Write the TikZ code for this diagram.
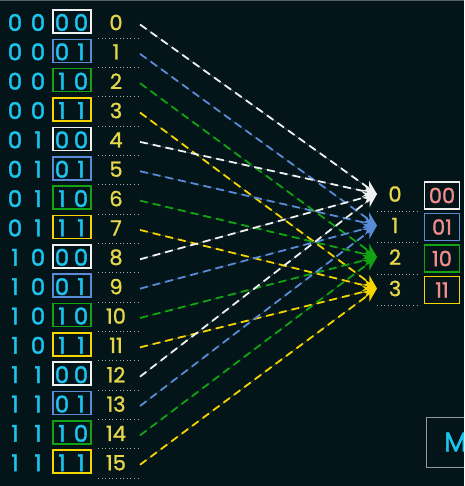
\documentclass[tikz,border=0pt]{standalone}
\usepackage{fontspec}
\setmainfont{Poppins}
\newfontfamily\bitfont{Poppins}[FakeBold=1.6]
\newfontfamily\numfont{Poppins}[FakeBold=1.2]
\usetikzlibrary{arrows.meta}
\definecolor{bgc}{RGB}{3,21,25}
\definecolor{cyanc}{RGB}{27,197,239}
\definecolor{yelt}{RGB}{230,214,74}
\definecolor{c0}{RGB}{240,240,240}
\definecolor{c1}{RGB}{90,139,214}
\definecolor{c2}{RGB}{18,163,18}
\definecolor{c3}{RGB}{245,212,0}
\definecolor{pinkc}{RGB}{240,140,140}
\definecolor{grayc}{RGB}{140,155,155}
\tikzset{
  bit/.style={text=cyanc,font=\bitfont\fontsize{23}{23}\selectfont,inner sep=0pt,anchor=center},
  numlab/.style={text=yelt,font=\numfont\fontsize{21}{21}\selectfont,inner sep=0pt,anchor=center},
  pairbox/.style={draw,line width=1.6pt,minimum width=38pt,minimum height=23pt,inner sep=0pt},
  rbox/.style={draw,line width=1.6pt,minimum width=35pt,minimum height=27pt,inner sep=0pt,text=pinkc,font=\numfont\fontsize{21}{21}\selectfont},
  dotl/.style={draw=grayc!80!white,line width=0.9pt,dash pattern=on 1pt off 2.6pt},
  dline/.style={line width=1.8pt,dash pattern=on 8pt off 5pt,-{Stealth[length=14pt,width=12pt]}}
}
\begin{document}
\begin{tikzpicture}[x=1pt,y=-1pt]
\fill[bgc] (0,0) rectangle (464,486);
\useasboundingbox (0,0) rectangle (464,486);
\clip (0,0) rectangle (464,486);
\draw[grayc!60!bgc,line width=0.8pt] (0,0.4) -- (464,0.4);
% targets
\foreach \k in {0,...,3}{
  \pgfmathsetmacro\yk{194+31.5*\k}
  \coordinate (t\k) at (377,\yk);
  \node[numlab] (r\k) at (395,\yk) {\k};
  \coordinate (rd\k a) at (377,\yk+17);
  \coordinate (rd\k b) at (418,\yk+17);
  \draw[dotl] (rd\k a) -- (rd\k b);
}
\node[rbox,draw=c0] (q0) at (442,195.5) {00};
\node[rbox,draw=c1] (q1) at (442,227) {01};
\node[rbox,draw=c2] (q2) at (442,258.5) {10};
\node[rbox,draw=c3] (q3) at (442,290) {11};
% rows
\foreach \i in {0,...,15}{
  \pgfmathsetmacro\y{22.5+29.35*\i}
  \pgfmathtruncatemacro\ba{\i/8}
  \pgfmathtruncatemacro\bb{mod(\i/4,2)}
  \pgfmathtruncatemacro\bc{mod(\i/2,2)}
  \pgfmathtruncatemacro\bd{mod(\i,2)}
  \pgfmathtruncatemacro\k{mod(\i,4)}
  \node[bit] (a\i) at (15,\y) {\ba};
  \node[bit] (b\i) at (38,\y) {\bb};
  \node[pairbox,draw=c\k] (p\i) at (72,\y-1) {};
  \node[bit] (c\i) at (62,\y) {\bc};
  \node[bit] (d\i) at (81,\y) {\bd};
  \node[numlab] (n\i) at (116,\y) {\i};
  \coordinate (da\i) at (98,\y+15.5);
  \coordinate (db\i) at (138,\y+15.5);
  \draw[dotl] (da\i) -- (db\i);
  \coordinate (s\i) at (140,\y+2);
  \draw[dline,draw=c\k,fill=c\k] (s\i) -- (t\k);
}
% M box
\node[draw=grayc,line width=1.2pt,minimum width=56pt,minimum height=50pt,inner sep=0pt,anchor=north west] (mbox) at (426,417) {};
\node[text=cyanc,font=\bitfont\fontsize{27}{27}\selectfont,inner sep=0pt,anchor=west] (mlab) at (444,442) {M};
\end{tikzpicture}
\end{document}
